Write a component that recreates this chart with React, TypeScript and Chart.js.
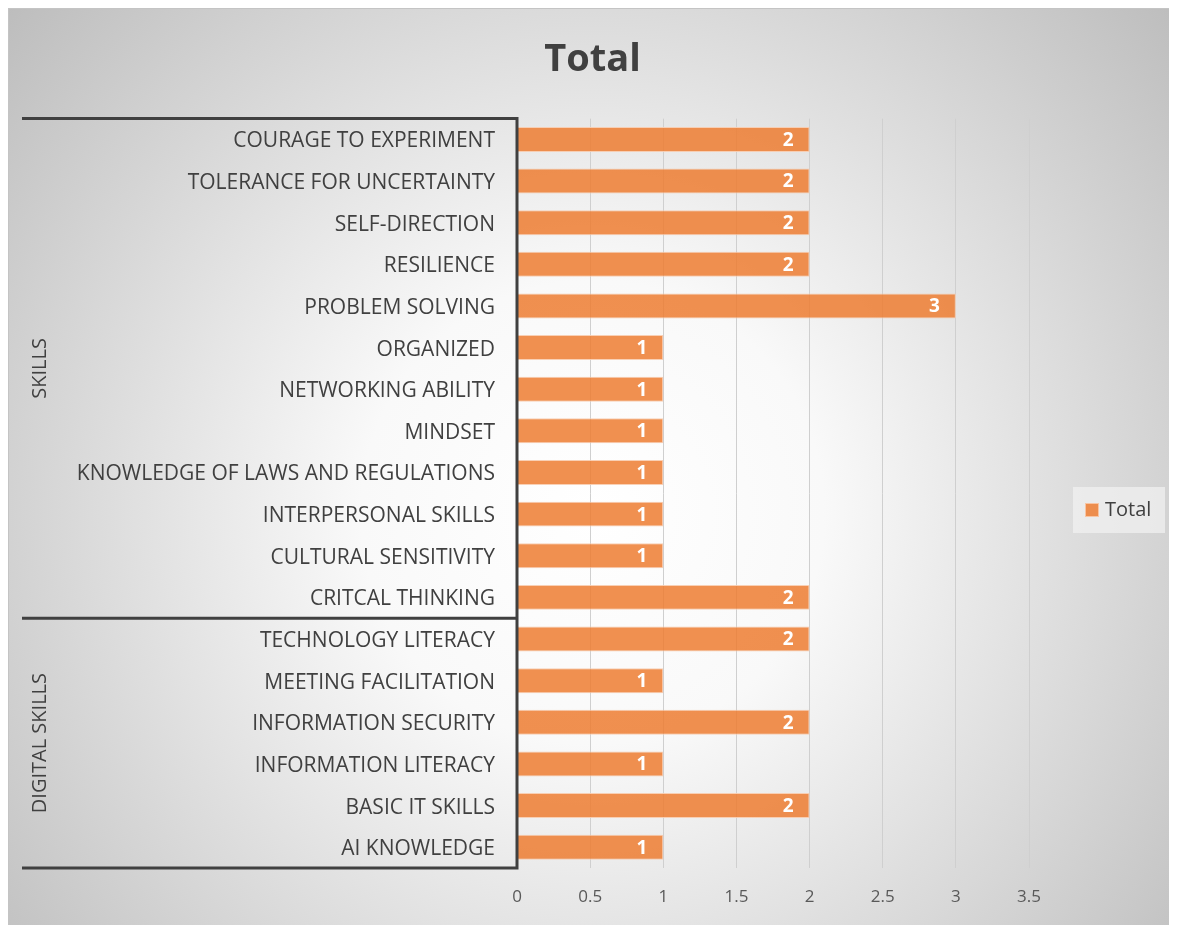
import React, { useEffect, useRef } from "react";
import { Chart, registerables } from "chart.js";

Chart.register(...registerables);

const categories = [
  "COURAGE TO EXPERIMENT",
  "TOLERANCE FOR UNCERTAINTY",
  "SELF-DIRECTION",
  "RESILIENCE",
  "PROBLEM SOLVING",
  "ORGANIZED",
  "NETWORKING ABILITY",
  "MINDSET",
  "KNOWLEDGE OF LAWS AND REGULATIONS",
  "INTERPERSONAL SKILLS",
  "CULTURAL SENSITIVITY",
  "CRITCAL THINKING",
  "TECHNOLOGY LITERACY",
  "MEETING FACILITATION",
  "INFORMATION SECURITY",
  "INFORMATION LITERACY",
  "BASIC IT SKILLS",
  "AI KNOWLEDGE",
];
const totalValues = [2, 2, 2, 2, 3, 1, 1, 1, 1, 1, 1, 2, 2, 1, 2, 1, 2, 1];
const groupNames = ["SKILLS", "DIGITAL SKILLS"];
const groupSizes = [12, 6];
const seriesName = "Total";
const xMin = 0;
const xMax = 3.5;
const xStep = 0.5;

const W = 1169;
const H = 917;
const FONT = "'Open Sans', sans-serif";
const DARK = "#404040";

const backgroundPlugin = {
  id: "bgGradient",
  beforeDraw(chart: any) {
    const { ctx, width, height } = chart;
    ctx.save();
    const cx = width * 0.5;
    const cy = height * 0.55;
    const r = Math.sqrt(cx * cx + cy * cy);
    const g = ctx.createRadialGradient(cx, cy, 0, cx, cy, r);
    g.addColorStop(0, "#ffffff");
    g.addColorStop(0.3, "#f9f9f9");
    g.addColorStop(1, "#bdbdbd");
    ctx.fillStyle = g;
    ctx.fillRect(0, 0, width, height);
    ctx.strokeStyle = "#c4c4c4";
    ctx.lineWidth = 1;
    ctx.strokeRect(0.5, 0.5, width + 5, height + 5);
    ctx.restore();
  },
};

const groupAxisPlugin = {
  id: "groupAxis",
  afterDraw(chart: any) {
    const { ctx, chartArea } = chart;
    const yScale = chart.scales.y;
    const left = 14;
    const axisX = chartArea.left;
    ctx.save();
    ctx.strokeStyle = DARK;
    ctx.lineWidth = 3;
    const boundaries: number[] = [chartArea.top];
    let idx = 0;
    groupSizes.forEach((n, gi) => {
      idx += n;
      if (gi < groupSizes.length - 1) {
        boundaries.push(
          (yScale.getPixelForValue(idx - 1) + yScale.getPixelForValue(idx)) / 2
        );
      }
    });
    boundaries.push(chartArea.bottom);
    ctx.beginPath();
    boundaries.forEach((y) => {
      ctx.moveTo(left, y);
      ctx.lineTo(axisX + 1.5, y);
    });
    ctx.moveTo(axisX, chartArea.top - 1.5);
    ctx.lineTo(axisX, chartArea.bottom + 1.5);
    ctx.stroke();

    ctx.fillStyle = DARK;
    ctx.font = `20px ${FONT}`;
    ctx.textAlign = "center";
    ctx.textBaseline = "middle";
    groupNames.forEach((name, gi) => {
      const y0 = boundaries[gi];
      const y1 = boundaries[gi + 1];
      ctx.save();
      ctx.translate(32, (y0 + y1) / 2);
      ctx.rotate(-Math.PI / 2);
      ctx.fillText(name, 0, 0);
      ctx.restore();
    });
    ctx.restore();
  },
};

const dataLabelPlugin = {
  id: "dataLabels",
  afterDatasetsDraw(chart: any) {
    const { ctx } = chart;
    const meta = chart.getDatasetMeta(0);
    ctx.save();
    ctx.fillStyle = "#ffffff";
    ctx.font = `bold 19px ${FONT}`;
    ctx.textAlign = "right";
    ctx.textBaseline = "middle";
    meta.data.forEach((bar: any, i: number) => {
      ctx.fillText(String(totalValues[i]), bar.x - 16, bar.y + 1);
    });
    ctx.restore();
  },
};

const legendPlugin = {
  id: "customLegend",
  afterDraw(chart: any) {
    const { ctx } = chart;
    const bx = 1065;
    const by = 479;
    ctx.save();
    ctx.fillStyle = "rgba(240,240,240,0.75)";
    ctx.fillRect(bx, by, 92, 46);
    ctx.fillStyle = "rgba(237,125,49,0.85)";
    ctx.fillRect(bx + 12, by + 16, 14, 14);
    ctx.strokeStyle = "rgba(248,203,173,0.9)";
    ctx.lineWidth = 1;
    ctx.strokeRect(bx + 12.5, by + 16.5, 13, 13);
    ctx.fillStyle = DARK;
    ctx.font = `20px ${FONT}`;
    ctx.textAlign = "left";
    ctx.textBaseline = "middle";
    ctx.fillText(seriesName, bx + 32, by + 23);
    ctx.restore();
  },
};

export default function App() {
  const canvasRef = useRef<HTMLCanvasElement | null>(null);

  useEffect(() => {
    if (!canvasRef.current) return;
    const chart = new Chart(canvasRef.current, {
      type: "bar",
      data: {
        labels: categories,
        datasets: [
          {
            label: seriesName,
            data: totalValues,
            backgroundColor: "rgba(237,125,49,0.85)",
            borderColor: "rgba(248,203,173,0.9)",
            borderWidth: 1,
            categoryPercentage: 1,
            barPercentage: 0.6,
          },
        ],
      },
      options: {
        indexAxis: "y",
        responsive: false,
        animation: false,
        layout: { padding: { left: 0, right: 0, top: 0, bottom: 0 } },
        plugins: {
          legend: { display: false },
          tooltip: { enabled: false },
          title: {
            display: true,
            text: "Total",
            color: DARK,
            font: { family: FONT, size: 38, weight: "bold" },
            padding: { top: 29, bottom: 36 },
          },
        },
        scales: {
          x: {
            min: xMin,
            max: xMax,
            ticks: {
              stepSize: xStep,
              color: "#595959",
              font: { family: FONT, size: 17 },
              padding: 19,
              callback: (v: any) => String(Number(v)),
            },
            grid: { color: "#cfcfcf", drawTicks: false },
            border: { display: false },
            afterFit: (s: any) => {
              s.height = 57;
            },
          },
          y: {
            ticks: {
              color: DARK,
              font: { family: FONT, size: 21 },
              padding: 14,
              labelOffset: 2,
              autoSkip: false,
            },
            grid: { display: false },
            border: { display: false },
            afterFit: (s: any) => {
              s.width = 509;
            },
          },
          yRight: {
            position: "right",
            display: true,
            ticks: { display: false },
            grid: { display: false, drawTicks: false },
            border: { display: false },
            afterFit: (s: any) => {
              s.width = 148;
            },
          },
        },
      },
      plugins: [backgroundPlugin, dataLabelPlugin, groupAxisPlugin, legendPlugin],
    });
    return () => chart.destroy();
  }, []);

  return (
    <div style={{ width: W, height: H }}>
      <canvas ref={canvasRef} width={W} height={H} />
    </div>
  );
}
